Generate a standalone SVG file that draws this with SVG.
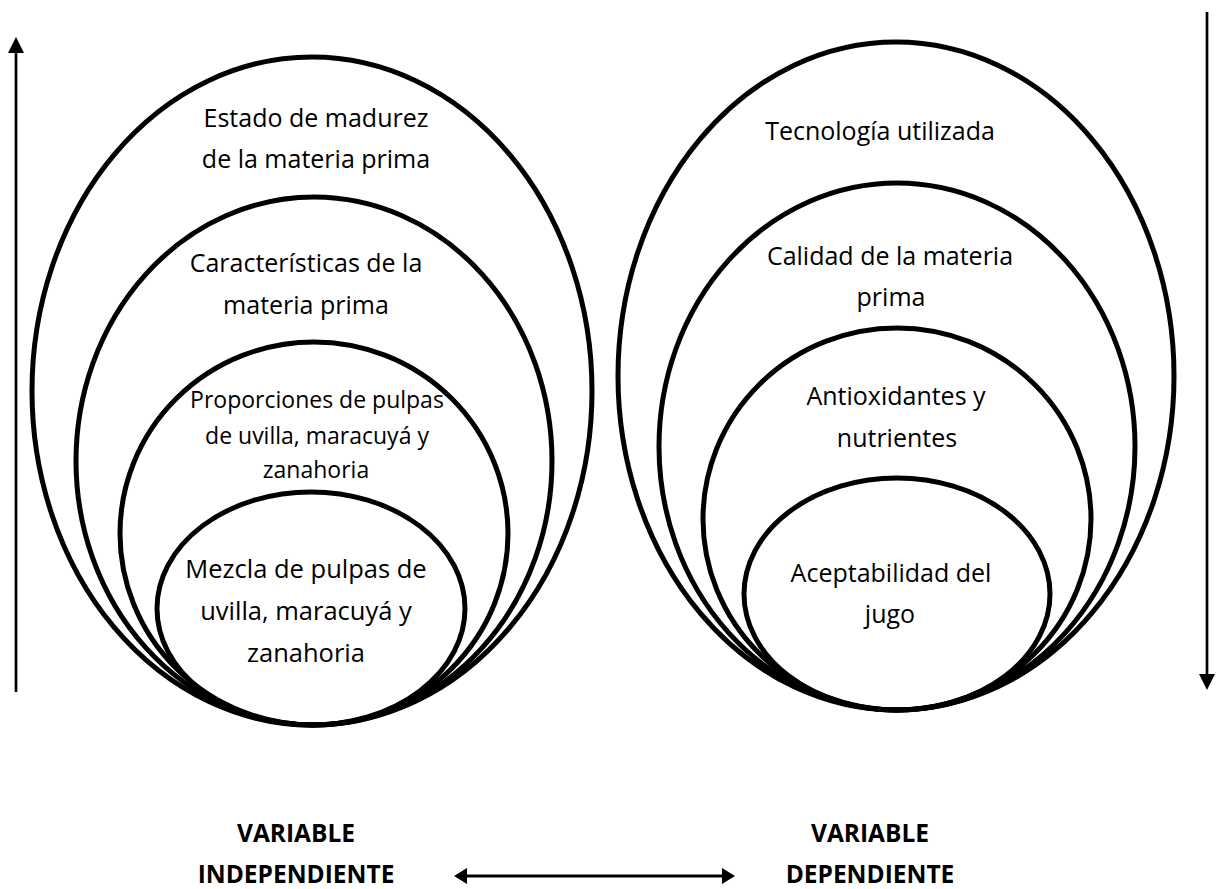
<svg xmlns="http://www.w3.org/2000/svg" width="1224" height="889" viewBox="0 0 1224 889">
<style>
  .ring { fill: none; stroke: #000; stroke-width: 5; }
  .lbl { font-family: "Open Sans", "Liberation Sans", sans-serif; font-size: 25px; fill: #000; text-anchor: middle; }
  .sm { font-size: 23px; }
  .md { font-size: 25.5px; }
  .bold { font-family: "Open Sans", "Liberation Sans", sans-serif; font-size: 24.5px; font-weight: bold; fill: #000; text-anchor: middle; }
  .conn { stroke: #000; fill: none; }
</style>
<defs>
  <marker id="headV" markerUnits="userSpaceOnUse" markerWidth="16" markerHeight="16" refX="0" refY="8" orient="auto">
    <path d="M0,0 L16,8 L0,16 Z" fill="#000"/>
  </marker>
  <marker id="headH" markerUnits="userSpaceOnUse" markerWidth="14" markerHeight="16" refX="0" refY="8" orient="auto-start-reverse">
    <path d="M0,0 L13,8 L0,16 Z" fill="#000"/>
  </marker>
</defs>
<rect x="0" y="0" width="1224" height="889" fill="#fff"/>

<g id="left-outer">
  <ellipse class="ring" cx="312" cy="391" rx="280" ry="334"/>
  <text class="lbl" x="316" y="127">Estado de madurez</text>
  <text class="lbl" x="316" y="168">de la materia prima</text>
</g>
<g id="left-second">
  <ellipse class="ring" cx="314" cy="461" rx="238" ry="264"/>
  <text class="lbl" x="306" y="272">Características de la</text>
  <text class="lbl" x="306" y="314">materia prima</text>
</g>
<g id="left-third">
  <ellipse class="ring" cx="314" cy="533.5" rx="194" ry="191.5"/>
  <text class="lbl sm" x="317" y="408">Proporciones de pulpas</text>
  <text class="lbl sm" x="317" y="444">de uvilla, maracuyá y</text>
  <text class="lbl sm" x="316" y="478">zanahoria</text>
</g>
<g id="left-inner">
  <ellipse class="ring" cx="311" cy="608.5" rx="154" ry="116.5"/>
  <text class="lbl md" x="306" y="578">Mezcla de pulpas de</text>
  <text class="lbl md" x="306" y="620">uvilla, maracuyá y</text>
  <text class="lbl md" x="306" y="662">zanahoria</text>
</g>

<g id="right-outer">
  <ellipse class="ring" cx="896" cy="376" rx="278" ry="334"/>
  <text class="lbl" x="880" y="140">Tecnología utilizada</text>
</g>
<g id="right-second">
  <ellipse class="ring" cx="897" cy="446.5" rx="238" ry="263.5"/>
  <text class="lbl" x="890" y="265">Calidad de la materia</text>
  <text class="lbl" x="891" y="306">prima</text>
</g>
<g id="right-third">
  <ellipse class="ring" cx="897" cy="519" rx="194" ry="191"/>
  <text class="lbl" x="896" y="405">Antioxidantes y</text>
  <text class="lbl" x="897" y="447">nutrientes</text>
</g>
<g id="right-inner">
  <ellipse class="ring" cx="897" cy="594" rx="153" ry="116"/>
  <text class="lbl" x="891" y="582">Aceptabilidad del</text>
  <text class="lbl" x="890" y="623">jugo</text>
</g>

<g id="label-independiente">
  <text class="bold" x="296" y="842">VARIABLE</text>
  <text class="bold" x="296" y="883">INDEPENDIENTE</text>
</g>
<g id="label-dependiente">
  <text class="bold" x="870" y="842">VARIABLE</text>
  <text class="bold" x="870" y="883">DEPENDIENTE</text>
</g>

<g id="connectors">
  <line class="conn" x1="16" y1="692" x2="16" y2="53" stroke-width="2.7" marker-end="url(#headV)"/>
  <line class="conn" x1="1207" y1="12" x2="1207" y2="674" stroke-width="2.7" marker-end="url(#headV)"/>
  <line class="conn" x1="467" y1="876" x2="722" y2="876" stroke-width="3" marker-start="url(#headH)" marker-end="url(#headH)"/>
</g>
</svg>
